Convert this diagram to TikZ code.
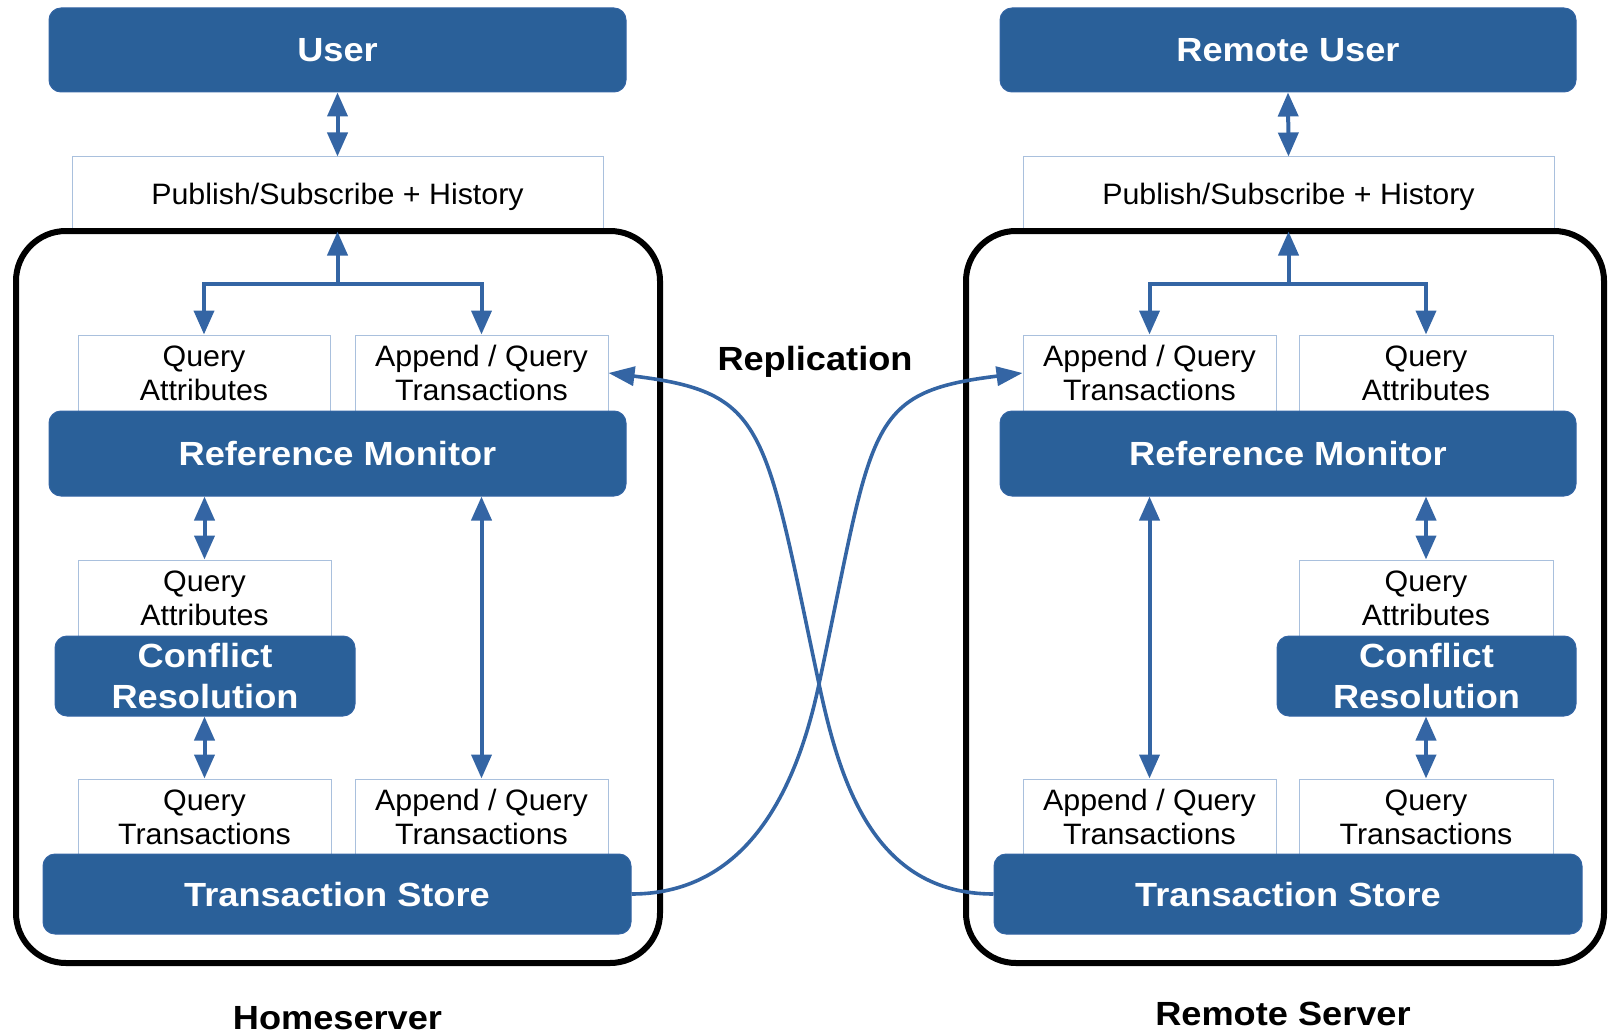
\documentclass[tikz,border=0pt]{standalone}
\usepackage{fontspec}
\setmainfont{Liberation Sans}[FakeStretch=1.08]
\newfontfamily\boxtextfont{Liberation Sans}[FakeStretch=1.03]
\usetikzlibrary{arrows.meta,calc}
\definecolor{boxblue}{HTML}{2A6099}
\definecolor{lineblue}{HTML}{3465A4}
\definecolor{paleedge}{HTML}{A9C0DD}
\begin{document}
\begin{tikzpicture}[x=1pt,y=1pt,
  darkbox/.style={draw=lineblue, line width=1pt, fill=boxblue, rounded corners=12pt,
    text=white, inner sep=0pt, align=center,
    font=\bfseries\fontsize{33.5pt}{41pt}\selectfont},
  lightbox/.style={draw=paleedge, line width=1pt, fill=white, inner sep=0pt, align=center,
    font=\boxtextfont\fontsize{29.5pt}{34pt}\selectfont},
  boldline/.style={text height=24pt, text depth=0pt},
  plainline/.style={text height=21pt, text depth=0pt},
  serverframe/.style={draw=black, line width=6pt, rounded corners=50pt, inner sep=0pt},
  caption/.style={font=\bfseries\fontsize{33.5pt}{40pt}\selectfont, anchor=base, inner sep=0pt},
  connector/.style={draw=lineblue, line width=4pt},
  biarrow/.style={connector, arrows={Triangle[length=24pt,width=20pt]-Triangle[length=24pt,width=20pt]}},
  toarrow/.style={connector, arrows={-Triangle[length=24pt,width=20pt]}},
  reparrow/.style={draw=lineblue, line width=3.6pt, arrows={-Triangle[length=26pt,width=19pt]}},
]
\useasboundingbox (0,0) rectangle (1608,-1035);

% ---------- Homeserver ----------
\node[darkbox, boldline, minimum width=577pt, minimum height=84pt] (user) at (337.5,-50) {User};
\node[lightbox, plainline, minimum width=531pt, minimum height=74pt] (pub) at (337.5,-194) {Publish/Subscribe + History};
\node[serverframe, minimum width=644pt, minimum height=732pt] (homeframe) at (338,-597) {};

\node[lightbox, minimum width=252pt, minimum height=76pt] (qa1) at (204,-373) {Query\\Attributes};
\node[lightbox, minimum width=253pt, minimum height=76pt] (aqt1) at (481.5,-373) {Append / Query\\Transactions};
\node[darkbox, boldline, minimum width=577pt, minimum height=85pt] (rm) at (337.5,-453.5) {Reference Monitor};
\node[lightbox, minimum width=253pt, minimum height=76pt] (qa2) at (204.5,-598) {Query\\Attributes};
\node[darkbox, minimum width=300pt, minimum height=80pt] (cr) at (205,-676) {Conflict\\Resolution};
\node[lightbox, minimum width=253pt, minimum height=76pt] (qt) at (204.5,-817) {Query\\Transactions};
\node[lightbox, minimum width=253pt, minimum height=76pt] (aqt2) at (481.5,-817) {Append / Query\\Transactions};
\node[darkbox, boldline, minimum width=588pt, minimum height=80pt] (ts) at (337,-894) {Transaction Store};

\node[caption] (homelabel) at (337.5,-1029) {Homeserver};

% ---------- Remote server ----------
\node[darkbox, boldline, minimum width=576pt, minimum height=84pt] (ruser) at (1288,-50) {Remote User};
\node[lightbox, plainline, minimum width=531pt, minimum height=74pt] (rpub) at (1288.5,-194) {Publish/Subscribe + History};
\node[serverframe, minimum width=638pt, minimum height=732pt] (remoteframe) at (1285,-597) {};

\node[lightbox, minimum width=253pt, minimum height=76pt] (raqt1) at (1149.5,-373) {Append / Query\\Transactions};
\node[lightbox, minimum width=254pt, minimum height=76pt] (rqa1) at (1426,-373) {Query\\Attributes};
\node[darkbox, boldline, minimum width=576pt, minimum height=85pt] (rrm) at (1288,-453.5) {Reference Monitor};
\node[lightbox, minimum width=254pt, minimum height=76pt] (rqa2) at (1426,-598) {Query\\Attributes};
\node[darkbox, minimum width=299pt, minimum height=80pt] (rcr) at (1426.5,-676) {Conflict\\Resolution};
\node[lightbox, minimum width=253pt, minimum height=76pt] (raqt2) at (1149.5,-817) {Append / Query\\Transactions};
\node[lightbox, minimum width=254pt, minimum height=76pt] (rqt) at (1426,-817) {Query\\Transactions};
\node[darkbox, boldline, minimum width=588pt, minimum height=80pt] (rts) at (1288,-894) {Transaction Store};

\node[caption] (remotelabel) at (1283,-1025) {Remote Server};

\node[caption] (replabel) at (815,-370) {Replication};

% ---------- Homeserver connectors ----------
\draw[biarrow] (user.south) -- (pub.north);
\coordinate (jl) at ($(pub.south)+(0,-52)$);
\draw[toarrow] (jl) -- (pub.south);
\draw[toarrow] (jl) -| (qa1.north);
\draw[toarrow] (jl) -| (aqt1.north);
\draw[biarrow] (qa2.north |- rm.south) -- (qa2.north);
\draw[biarrow] (aqt2.north |- rm.south) -- (aqt2.north);
\draw[biarrow] (qt.north |- cr.south) -- (qt.north);

% ---------- Remote server connectors ----------
\draw[biarrow] (ruser.south) -- (rpub.north);
\coordinate (jr) at ($(rpub.south)+(0,-52)$);
\draw[toarrow] (jr) -- (rpub.south);
\draw[toarrow] (jr) -| (raqt1.north);
\draw[toarrow] (jr) -| (rqa1.north);
\draw[biarrow] (raqt2.north |- rrm.south) -- (raqt2.north);
\draw[biarrow] (rqa2.north |- rrm.south) -- (rqa2.north);
\draw[biarrow] (rqt.north |- rcr.south) -- (rqt.north);

% ---------- Replication links ----------
\coordinate (cross) at (819,-684);
\draw[reparrow] (ts.east)
  to[out=0, in=258, out distance=120pt, in distance=100pt] (cross)
  to[out=78, in=187, out distance=265pt, in distance=160pt] (raqt1.west);
\draw[reparrow] (rts.west)
  to[out=180, in=282, out distance=120pt, in distance=100pt] (cross)
  to[out=102, in=353, out distance=265pt, in distance=160pt] (aqt1.east);
\end{tikzpicture}
\end{document}
